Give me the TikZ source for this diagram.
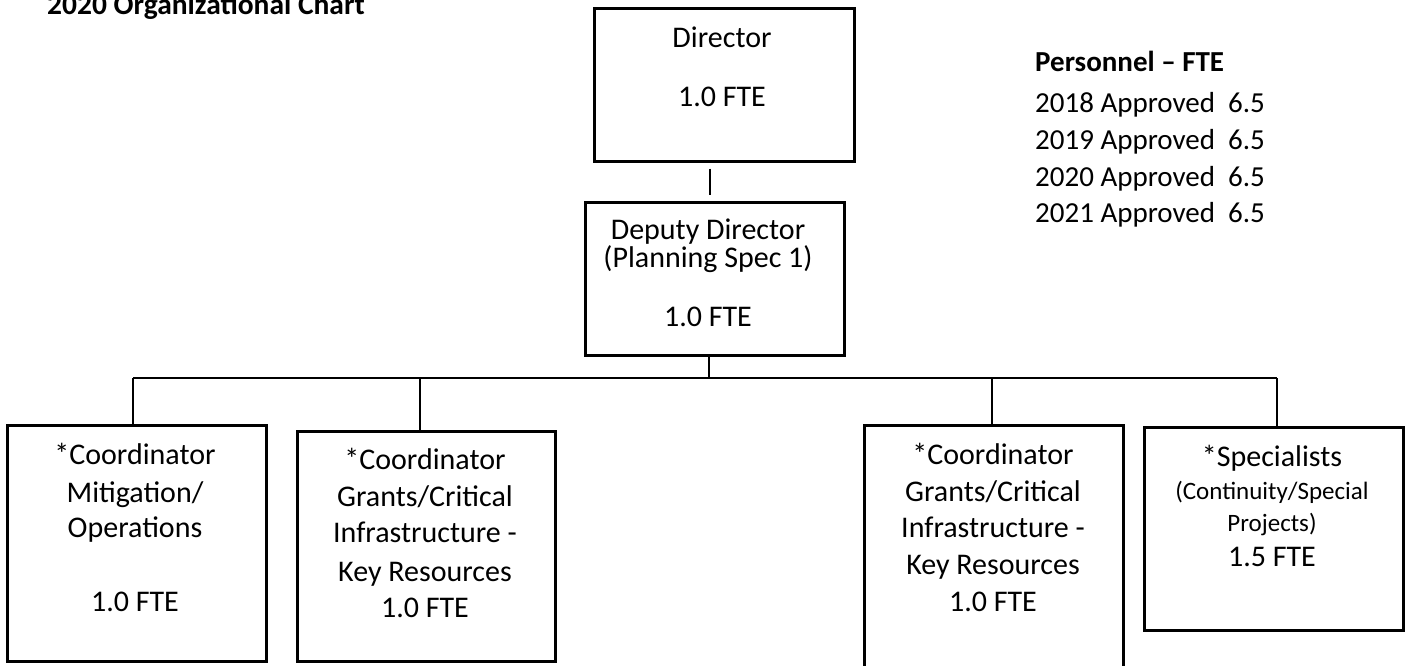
\documentclass[tikz,border=0pt]{standalone}
\usepackage{fontspec}
\setmainfont{Carlito}
\begin{document}
\begin{tikzpicture}[x=1pt,y=-1pt,
  box/.style={draw,line width=2.6pt,inner sep=0pt,anchor=north west},
  link/.style={line width=1.2pt},
  txt/.style={inner sep=0pt,text height=0.3em,text depth=0.1em,yshift=-8pt,font=\fontsize{30}{36}\selectfont},
  small/.style={txt,font=\fontsize{25}{30}\selectfont},
  side/.style={txt,anchor=west,font=\fontsize{29}{35}\selectfont}]
\useasboundingbox (0,0) rectangle (1406,665);

% title, partly above the page edge
\node[inner sep=0pt,anchor=base west,font=\fontsize{29.5}{35}\selectfont\bfseries] (title) at (47,14) {2020 Organizational Chart};

% boxes
\node[box,minimum width=260pt,minimum height=153pt] (dir) at (593,7) {};
\node[box,minimum width=259pt,minimum height=153pt] (dep) at (584,201) {};
\node[box,minimum width=259pt,minimum height=236pt] (c1) at (6,424) {};
\node[box,minimum width=258pt,minimum height=230pt] (c2) at (296,430) {};
\node[box,minimum width=259pt,minimum height=250pt] (c3) at (863,424) {};
\node[box,minimum width=259pt,minimum height=203pt] (c4) at (1143,426) {};

% texts
\node[txt] (dirA) at (722,38) {Director};
\node[txt] (dirB) at (722,97) {1.0 FTE};
\node[txt] (depA) at (708,230) {Deputy Director};
\node[txt] (depB) at (708,258) {(Planning Spec 1)};
\node[txt] (depC) at (708,317) {1.0 FTE};

\node[txt] (c1a) at (135,455) {*Coordinator};
\node[txt] (c1b) at (135,493) {Mitigation/};
\node[txt] (c1c) at (135,528) {Operations};
\node[txt] (c1d) at (135,602) {1.0 FTE};

\node[txt] (c2a) at (425,460) {*Coordinator};
\node[txt] (c2b) at (425,497) {Grants/Critical};
\node[txt] (c2c) at (425,533) {Infrastructure -};
\node[txt] (c2d) at (425,572) {Key Resources};
\node[txt] (c2e) at (425,608) {1.0 FTE};

\node[txt] (c3a) at (993,455) {*Coordinator};
\node[txt] (c3b) at (993,492) {Grants/Critical};
\node[txt] (c3c) at (993,528) {Infrastructure -};
\node[txt] (c3d) at (993,565) {Key Resources};
\node[txt] (c3e) at (993,602) {1.0 FTE};

\node[txt] (c4a) at (1272,457) {*Specialists};
\node[small] (c4b) at (1272,490) {(Continuity/Special};
\node[small] (c4c) at (1272,522) {Projects)};
\node[txt] (c4d) at (1272,557) {1.5 FTE};

% staffing summary
\node[side,font=\fontsize{29}{35}\selectfont\bfseries] (pers) at (1035,62) {Personnel -- FTE};
\foreach \yr/\yy [count=\i] in {2018/103,2019/140,2020/177,2021/213}{
  \node[side] (yr\i) at (1035,\yy) {\yr{} Approved};
  \node[side] (val\i) at (1228,\yy) {6.5};
}

% connectors
\draw[link,shorten <=6pt,shorten >=6pt] (dir.south -| 710,0) -- (dep.north -| 710,0);
\coordinate (bus) at (709,378);
\coordinate (busL) at (133,378);
\coordinate (busR) at (1277,378);
\draw[link] (dep.south -| bus) -- (bus);
\draw[link] (busL) -- (busR);
\draw[link] (busL) -- (c1.north -| busL);
\draw[link] (420,378) -- (c2.north -| 420,0);
\draw[link] (992,378) -- (c3.north -| 992,0);
\draw[link] (busR) -- (c4.north -| busR);
\end{tikzpicture}
\end{document}
